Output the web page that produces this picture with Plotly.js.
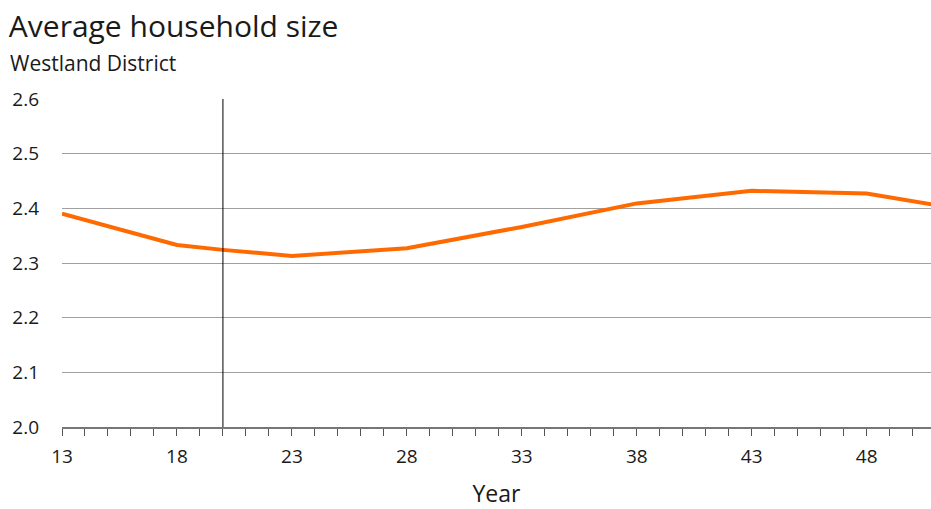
<!DOCTYPE html>
<html>
<head>
<meta charset="utf-8">
<script src="https://cdn.plot.ly/plotly-3.0.1.min.js"></script>
<style>
  html, body { margin: 0; padding: 0; background: #fff; }
  #chart { width: 931px; height: 509px; }
</style>
</head>
<body>
<div id="chart"></div>
<script>
// Average household size, Westland District (years shown as two-digit suffix)
const years = [13, 18, 20, 23, 28, 33, 38, 43, 48, 51];
const householdSize = [2.390, 2.333, 2.324, 2.313, 2.327, 2.366, 2.409, 2.432, 2.427, 2.406];
const markerYear = 20;
const tickYears = [13, 18, 23, 28, 33, 38, 43, 48];

const FONT = '"Open Sans", "Noto Sans", sans-serif';

const trace = {
  x: years,
  y: householdSize,
  type: 'scatter',
  mode: 'lines',
  line: { color: '#ff6a00', width: 4 },
  hoverinfo: 'x+y'
};

const layout = {
  width: 931,
  height: 509,
  margin: { l: 62, r: 0, t: 99, b: 82 },
  paper_bgcolor: '#ffffff',
  plot_bgcolor: '#ffffff',
  showlegend: false,
  font: { family: FONT, color: '#1a1a1a', size: 19 },
  title: {
    text: 'Average household size',
    font: { family: FONT, size: 30, color: '#1a1a1a' },
    xref: 'container', yref: 'container',
    x: 0.0095, xanchor: 'left',
    y: 0.948, yanchor: 'middle'
  },
  annotations: [{
    text: 'Westland District',
    xref: 'paper', yref: 'paper',
    x: -0.0626, xanchor: 'left',
    y: 1.0, yanchor: 'bottom', yshift: 20,
    showarrow: false,
    font: { family: FONT, size: 21, color: '#1a1a1a' }
  }],
  xaxis: {
    range: [13, 50.8],
    tickvals: tickYears,
    ticktext: tickYears.map(String),
    ticks: 'outside',
    ticklen: 7,
    tickcolor: '#555',
    tickwidth: 1,
    minor: { dtick: 1, tick0: 13, ticks: 'outside', ticklen: 7, tickcolor: '#555', tickwidth: 1, showgrid: false },
    showline: true,
    linecolor: '#777',
    linewidth: 2,
    showgrid: false,
    zeroline: false,
    ticklabelstandoff: 4,
    tickfont: { family: FONT, size: 19, color: '#1a1a1a' },
    title: { text: 'Year', font: { family: FONT, size: 23, color: '#1a1a1a' }, standoff: 22 }
  },
  yaxis: {
    range: [2.0, 2.6],
    dtick: 0.1,
    tickformat: '.1f',
    showgrid: true,
    gridcolor: '#a0a0a0',
    gridwidth: 1,
    showline: false,
    zeroline: false,
    ticks: '',
    ticklabelstandoff: 22,
    tickfont: { family: FONT, size: 19, color: '#1a1a1a' }
  },
  shapes: [{
    type: 'line',
    xref: 'x', yref: 'paper',
    x0: markerYear, x1: markerYear, y0: 0, y1: 1,
    line: { color: '#000', width: 1 }
  }]
};

Plotly.newPlot('chart', [trace], layout, { displayModeBar: false, staticPlot: true });
</script>
</body>
</html>
